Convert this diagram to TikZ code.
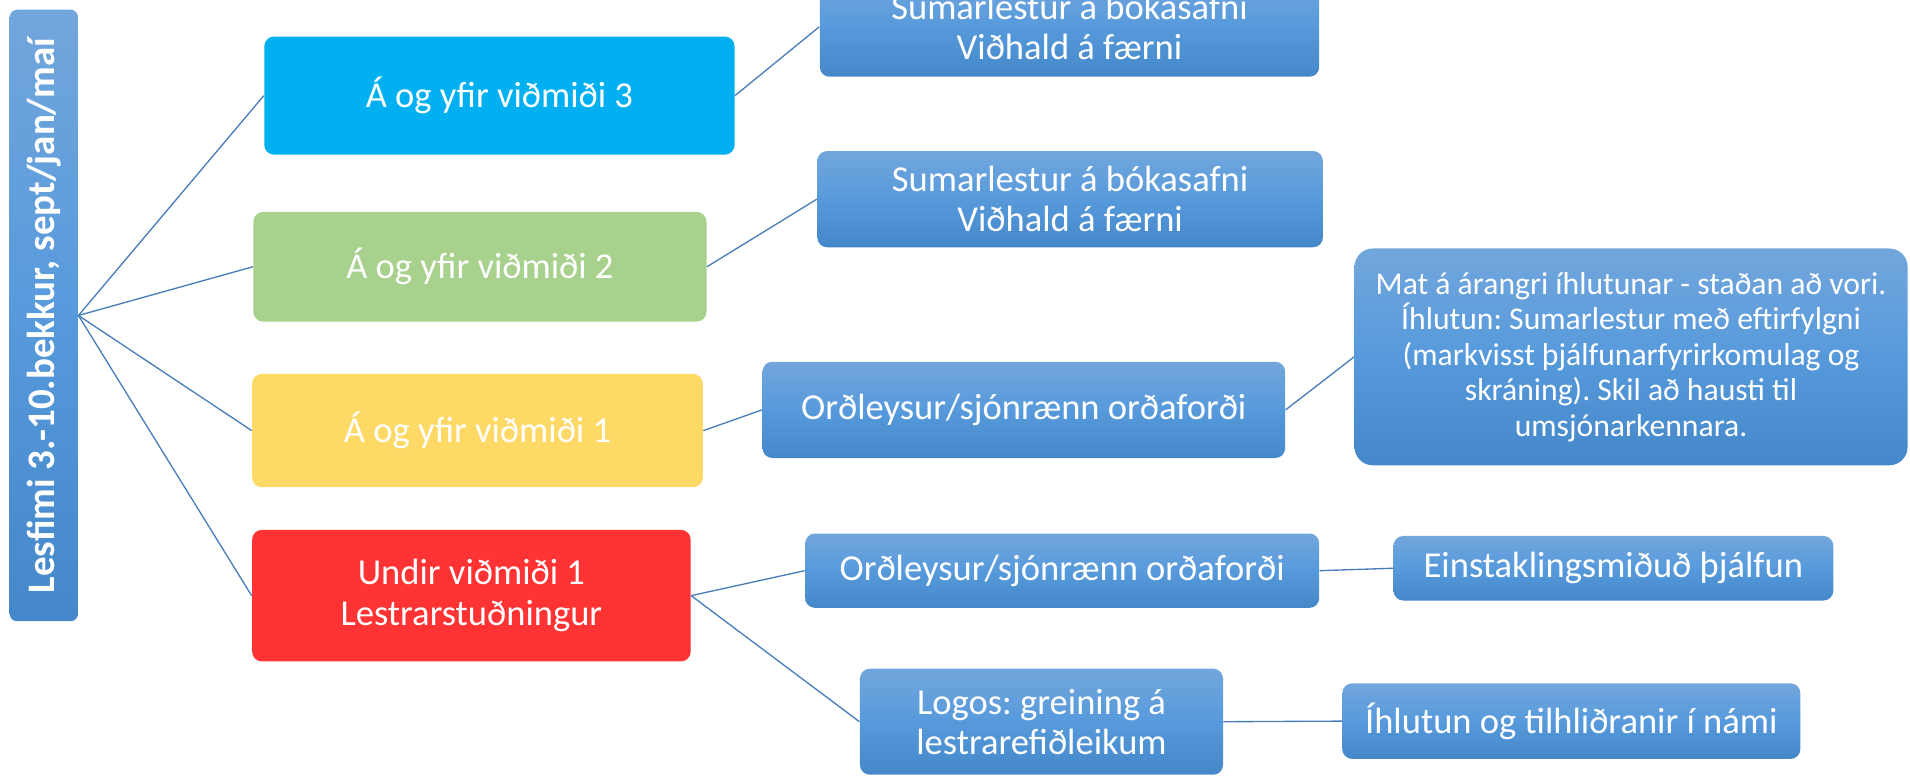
\documentclass[tikz,border=0pt]{standalone}
\usepackage{fontspec}
\setmainfont{Carlito}
\frenchspacing
\definecolor{btop}{RGB}{114,166,220}
\definecolor{bmid}{RGB}{87,154,220}
\definecolor{bbot}{RGB}{68,136,202}
\definecolor{lcyan}{RGB}{0,176,240}
\definecolor{lgreen}{RGB}{169,209,142}
\definecolor{lyellow}{RGB}{255,217,102}
\definecolor{lred}{RGB}{255,51,51}
\definecolor{conn}{RGB}{74,126,187}
\begin{document}
\begin{tikzpicture}[x=0.5pt,y=-0.5pt,
  box/.style={rounded corners=4pt, text=white, align=center, inner sep=0pt,
    font=\fontsize{15}{16.5}\selectfont},
  bluebox/.style={box, top color=btop, bottom color=bbot, middle color=bmid},
  lvl/.style={box, fill=#1},
  link/.style={draw=conn, line width=0.55pt}]
\useasboundingbox (0,0) rectangle (1568,640);
% root
\node[bluebox, rounded corners=3pt, minimum width=28pt, minimum height=251pt,
  font=\fontsize{16}{18}\selectfont\bfseries] (root) at (36,259)
  {\rotatebox{90}{Lesfimi 3.-10.bekkur, sept/jan/maí}};
% level 1
\node[lvl=lcyan, minimum width=193pt, minimum height=48.5pt] (n3) at (410,78.5) {Á og yfir viðmiði 3};
\node[lvl=lgreen, minimum width=186pt, minimum height=45pt] (n2) at (394,219) {Á og yfir viðmiði 2};
\node[lvl=lyellow, minimum width=185pt, minimum height=46.5pt] (n1) at (392,353.5) {Á og yfir viðmiði 1};
\node[lvl=lred, minimum width=180pt, minimum height=54pt,
  font=\fontsize{15}{17}\selectfont] (n0) at (387,489) {Undir viðmiði 1\\Lestrarstuðningur};
% level 2
\node[bluebox, minimum width=205pt, minimum height=41pt] (s3) at (878,22) {Sumarlestur á bókasafni\\Viðhald á færni};
\node[bluebox, minimum width=207.5pt, minimum height=39.5pt] (s2) at (878.5,163.5) {Sumarlestur á bókasafni\\Viðhald á færni};
\node[bluebox, minimum width=214.5pt, minimum height=39.5pt] (o1) at (840.5,336.5) {Orðleysur/sjónrænn orðaforði};
\node[bluebox, minimum width=211pt, minimum height=30.5pt] (o2) at (872,468.5) {Orðleysur/sjónrænn orðaforði};
\node[bluebox, minimum width=149pt, minimum height=43.5pt] (logos) at (855,592.5) {Logos: greining á\\lestrarefiðleikum};
% level 3
\node[bluebox, rounded corners=7.5pt, minimum width=227pt, minimum height=89pt,
  font=\fontsize{13}{14.6}\selectfont] (mat) at (1339,293)
  {Mat á árangri íhlutunar - staðan að vori.\\Íhlutun: Sumarlestur með eftirfylgni\\(markvisst þjálfunarfyrirkomulag og\\skráning). Skil að hausti til\\umsjónarkennara.};
\node[bluebox, minimum width=180.5pt, minimum height=26.5pt] (ein) at (1324.5,466.5) {Einstaklingsmiðuð þjálfun};
\node[bluebox, minimum width=188pt, minimum height=31pt] (ihl) at (1290,592) {Íhlutun og tilhliðranir í námi};
% connectors
\draw[link] (root.east) -- (n3.west);
\draw[link] (root.east) -- (n2.west);
\draw[link] (root.east) -- (n1.west);
\draw[link] (root.east) -- (n0.west);
\draw[link] (n3.east) -- (s3.west);
\draw[link] (n2.east) -- (s2.west);
\draw[link] (n1.east) -- (o1.west);
\draw[link] (o1.east) -- (mat.west);
\draw[link] (n0.east) -- (o2.west);
\draw[link] (n0.east) -- (logos.west);
\draw[link] (o2.east) -- (ein.west);
\draw[link] (logos.east) -- (ihl.west);
\end{tikzpicture}
\end{document}
